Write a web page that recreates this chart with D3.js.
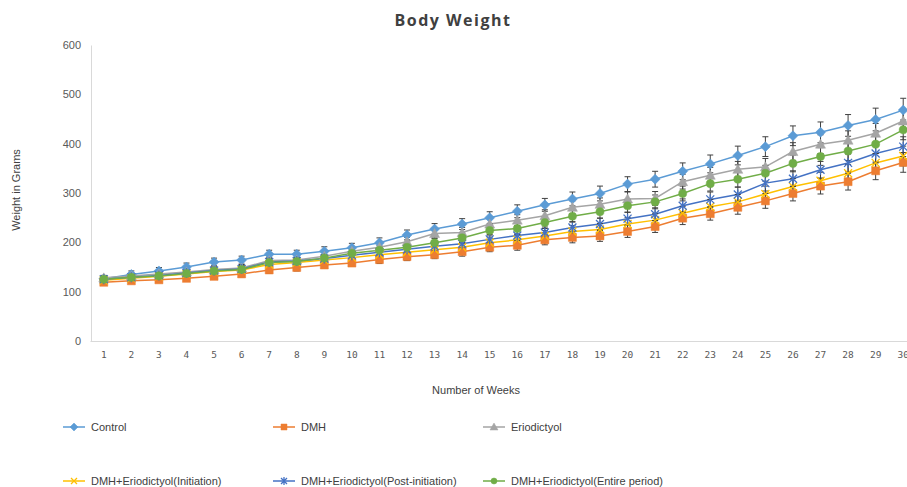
<!DOCTYPE html>
<html>
<head>
<meta charset="utf-8">
<script src="https://cdn.jsdelivr.net/npm/d3@7"></script>
<style>
  body { margin: 0; background: #fff; }
  svg { display: block; }
</style>
</head>
<body>
<div id="chart-area"></div>
<script>
// weeks on the x axis
var weeks = [1,2,3,4,5,6,7,8,9,10,11,12,13,14,15,16,17,18,19,20,21,22,23,24,25,26,27,28,29,30];
var yTicks = [0, 100, 200, 300, 400, 500, 600];

// mean body weight (g) per group
var control      = [126,135,142,150,160,164,176,176,182,189,199,215,227,237,250,263,276,288,299,318,328,344,359,376,394,416,423,437,449,468];
var dmh          = [119,122,124,127,131,136,144,149,154,158,165,171,175,181,190,194,205,210,213,222,232,249,258,271,284,299,314,323,345,362];
var erio         = [128,132,136,140,145,148,163,164,172,182,190,201,218,220,237,245,254,271,277,288,289,323,336,348,353,384,399,407,421,446];
var initiation   = [123,127,131,136,141,144,155,159,164,169,175,180,185,190,199,205,213,222,226,237,245,259,272,282,298,313,325,340,361,375];
var postInit     = [125,129,133,138,143,146,160,162,167,174,180,186,192,197,206,214,220,230,237,248,257,274,287,297,320,329,347,361,380,394];
var entire       = [125,129,132,137,142,145,159,161,168,178,184,190,199,209,224,228,240,253,262,274,282,299,319,328,340,360,374,385,399,428];

// standard errors (g)
var controlErr   = [6,7,7,8,8,8,8,8,9,9,10,10,11,11,12,13,13,14,15,15,16,17,18,19,20,20,21,22,23,24];
var dmhErr       = [5,5,5,6,6,6,7,7,7,7,8,8,8,9,9,10,10,11,11,12,12,13,13,14,15,15,16,17,18,20];
var erioErr      = [5,6,6,6,7,7,7,8,8,8,9,9,10,10,11,11,12,13,13,14,14,15,16,16,17,18,19,19,20,21];
var initErr      = [5,5,6,6,6,7,7,7,8,8,8,9,9,10,10,11,11,12,12,13,13,14,15,15,16,16,17,18,19,20];
var postErr      = [5,5,6,6,6,7,7,7,8,8,8,9,9,10,10,11,11,12,12,13,13,14,15,15,16,16,17,18,19,20];
var entireErr    = [5,6,6,6,7,7,7,8,8,8,9,9,10,10,11,11,12,12,13,13,14,15,15,16,16,17,18,19,19,20];

var seriesNames  = ["Control", "DMH", "Eriodictyol", "DMH+Eriodictyol(Initiation)", "DMH+Eriodictyol(Post-initiation)", "DMH+Eriodictyol(Entire period)"];
var seriesValues = [control, dmh, erio, initiation, postInit, entire];
var seriesErrors = [controlErr, dmhErr, erioErr, initErr, postErr, entireErr];
var colors  = ["#5B9BD5", "#ED7D31", "#A5A5A5", "#FFC000", "#4472C4", "#70AD47"];
var markers = ["diamond", "square", "triangle", "x", "asterisk", "circle"];

var W = 907, H = 487;
var plot = { left: 90, right: 917, top: 45, bottom: 341 };

var svg = d3.select("#chart-area")
  .append("svg")
    .attr("width", W)
    .attr("height", H);

var x = d3.scaleBand()
  .domain(weeks)
  .range([plot.left, plot.right]);

var y = d3.scaleLinear()
  .domain([0, 600])
  .range([plot.bottom, plot.top]);

// marker shapes in the Excel style
function markerPath(type, s) {
  var h = s / 2;
  if (type == "diamond") return "M0," + (-h - 1) + "L" + (h + 1) + ",0L0," + (h + 1) + "L" + (-h - 1) + ",0Z";
  if (type == "square") return "M" + (-h) + "," + (-h) + "h" + s + "v" + s + "h" + (-s) + "Z";
  if (type == "triangle") return "M0," + (-h - 1) + "L" + (h + 1) + "," + (h) + "L" + (-h - 1) + "," + (h) + "Z";
  if (type == "x") return "M" + (-h) + "," + (-h) + "L" + h + "," + h + "M" + h + "," + (-h) + "L" + (-h) + "," + h;
  if (type == "asterisk") return "M" + (-h) + "," + (-h) + "L" + h + "," + h + "M" + h + "," + (-h) + "L" + (-h) + "," + h + "M0," + (-h - 1) + "L0," + (h + 1);
  return d3.symbol().type(d3.symbolCircle).size(s * s * 0.8)();
}

function drawMarker(g, type, color, s) {
  var filled = (type != "x" && type != "asterisk");
  g.append("path")
    .attr("d", markerPath(type, s))
    .attr("fill", filled ? color : "none")
    .attr("stroke", color)
    .attr("stroke-width", filled ? 0.5 : 1.3);
}

// title
svg.append("text")
  .attr("x", 453)
  .attr("y", 26)
  .attr("text-anchor", "middle")
  .attr("font-family", "Open Sans, sans-serif")
  .attr("font-weight", "bold")
  .attr("font-size", "16px")
  .attr("letter-spacing", "1.5px")
  .attr("fill", "#404040")
  .text("Body Weight");

// y axis
var yAxis = svg.append("g")
  .attr("transform", "translate(" + (plot.left + 1) + ",0)")
  .call(d3.axisLeft(y).tickValues(yTicks).tickSize(0).tickPadding(10));
yAxis.select(".domain").attr("stroke", "#d9d9d9");
yAxis.selectAll("text")
  .attr("font-family", "Liberation Sans Narrow, Arial Narrow, sans-serif")
  .attr("font-size", "11px")
  .attr("fill", "#595959");

// x axis
var xAxis = svg.append("g")
  .attr("transform", "translate(0," + plot.bottom + ")")
  .call(d3.axisBottom(x).tickSize(0).tickPadding(10));
xAxis.select(".domain").attr("stroke", "#d9d9d9");
xAxis.selectAll("text")
  .attr("font-family", "DejaVu Sans Mono, monospace")
  .attr("font-size", "9.5px")
  .attr("fill", "#595959");

// axis titles
svg.append("text")
  .attr("transform", "translate(20,190) rotate(-90)")
  .attr("text-anchor", "middle")
  .attr("font-family", "Liberation Sans Narrow, Arial Narrow, sans-serif")
  .attr("font-size", "11px")
  .attr("fill", "#404040")
  .text("Weight in Grams");

svg.append("text")
  .attr("x", 476)
  .attr("y", 394)
  .attr("text-anchor", "middle")
  .attr("font-family", "Liberation Sans Narrow, Arial Narrow, sans-serif")
  .attr("font-size", "11px")
  .attr("fill", "#404040")
  .text("Number of Weeks");

var cx = function(i){ return x(weeks[i]) + x.bandwidth() / 2; };

var line = d3.line()
  .x(function(d, i){ return cx(i); })
  .y(function(d){ return y(d); });

// lines
seriesValues.forEach(function(vals, k){
  svg.append("path")
    .datum(vals)
    .attr("d", line)
    .attr("fill", "none")
    .attr("stroke", colors[k])
    .attr("stroke-width", 1.5);
});

// error bars
seriesValues.forEach(function(vals, k){
  var eg = svg.append("g").attr("stroke", "#404040").attr("stroke-width", 1);
  vals.forEach(function(v, i){
    var e = seriesErrors[k][i];
    var px = cx(i);
    eg.append("line").attr("x1", px).attr("x2", px).attr("y1", y(v - e)).attr("y2", y(v + e));
    eg.append("line").attr("x1", px - 3).attr("x2", px + 3).attr("y1", y(v + e)).attr("y2", y(v + e));
    eg.append("line").attr("x1", px - 3).attr("x2", px + 3).attr("y1", y(v - e)).attr("y2", y(v - e));
  });
});

// markers
seriesValues.forEach(function(vals, k){
  vals.forEach(function(v, i){
    var mg = svg.append("g").attr("transform", "translate(" + cx(i) + "," + y(v) + ")");
    drawMarker(mg, markers[k], colors[k], 8);
  });
});

// legend
var legX = [63, 273, 483];
var legY = [427, 481];
seriesNames.forEach(function(name, k){
  var lx = legX[k % 3], ly = legY[Math.floor(k / 3)];
  var lg = svg.append("g");
  lg.append("line")
    .attr("x1", lx).attr("x2", lx + 22)
    .attr("y1", ly).attr("y2", ly)
    .attr("stroke", colors[k])
    .attr("stroke-width", 1.5);
  var mg = lg.append("g").attr("transform", "translate(" + (lx + 11) + "," + ly + ")");
  drawMarker(mg, markers[k], colors[k], 6);
  lg.append("text")
    .attr("x", lx + 28)
    .attr("y", ly + 4)
    .attr("font-family", "Liberation Sans Narrow, Arial Narrow, sans-serif")
    .attr("font-size", "11px")
    .attr("fill", "#404040")
    .text(name);
});
</script>
</body>
</html>
